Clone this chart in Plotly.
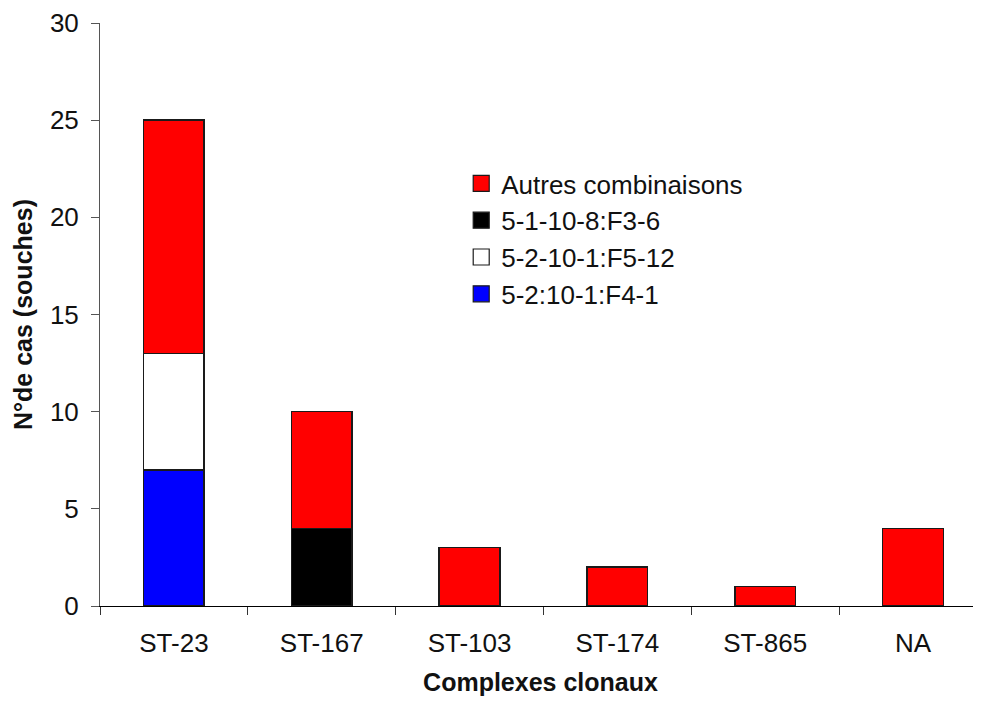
import plotly.graph_objects as go

categories = ["ST-23", "ST-167", "ST-103", "ST-174", "ST-865", "NA"]
blue_vals = [7, None, None, None, None, None]      # 5-2:10-1:F4-1
white_vals = [6, None, None, None, None, None]     # 5-2-10-1:F5-12
black_vals = [None, 4, None, None, None, None]     # 5-1-10-8:F3-6
red_vals = [12, 6, 3, 2, 1, 4]                     # Autres combinaisons

series = [
    ("5-2:10-1:F4-1", blue_vals, "#0000FF"),
    ("5-2-10-1:F5-12", white_vals, "#FFFFFF"),
    ("5-1-10-8:F3-6", black_vals, "#000000"),
    ("Autres combinaisons", red_vals, "#FF0000"),
]

FONT = "Liberation Sans, Arial, sans-serif"

fig = go.Figure()
for name, vals, color in series:
    fig.add_trace(go.Bar(
        x=categories, y=vals, name=name, width=0.41,
        marker=dict(color=color, line=dict(color="#1a1a1a", width=1.5)),
        showlegend=False,
    ))

# legend entries (top to bottom)
for name, vals, color in reversed(series):
    fig.add_trace(go.Scatter(
        x=[None], y=[None], mode="markers", name=name,
        marker=dict(symbol="square", size=16, color=color,
                    line=dict(color="#1a1a1a", width=1.2)),
    ))

fig.update_layout(
    barmode="stack",
    width=973, height=694,
    margin=dict(l=92, r=0, t=15, b=96, autoexpand=False),
    paper_bgcolor="white", plot_bgcolor="white",
    font=dict(family=FONT, size=26, color="#111111"),
    legend=dict(x=0.41, y=0.765, xanchor="left", yanchor="top",
                traceorder="normal",
                bgcolor="rgba(0,0,0,0)", font=dict(size=26),
                itemsizing="trace"),
)
fig.update_xaxes(
    type="category", range=[-0.5, 5.46],
    showline=True, linecolor="#000000", linewidth=1,
    ticks="outside", tickson="boundaries", ticklen=8, tickcolor="#333333",
    showgrid=False, tickfont=dict(size=26), ticklabelstandoff=14,
    title=dict(text="<b>Complexes clonaux</b>", font=dict(size=25), standoff=16),
    automargin=False,
)
fig.update_yaxes(
    range=[0, 30], dtick=5,
    showline=True, linecolor="#555555", linewidth=1,
    ticks="outside", ticklen=8, tickcolor="#555555",
    showgrid=False, zeroline=False, tickfont=dict(size=26), ticklabelstandoff=7,
    title=dict(text="<b>N°de cas (souches)</b>", font=dict(size=25), standoff=10),
    automargin=False,
)

fig.write_html("out.html")
